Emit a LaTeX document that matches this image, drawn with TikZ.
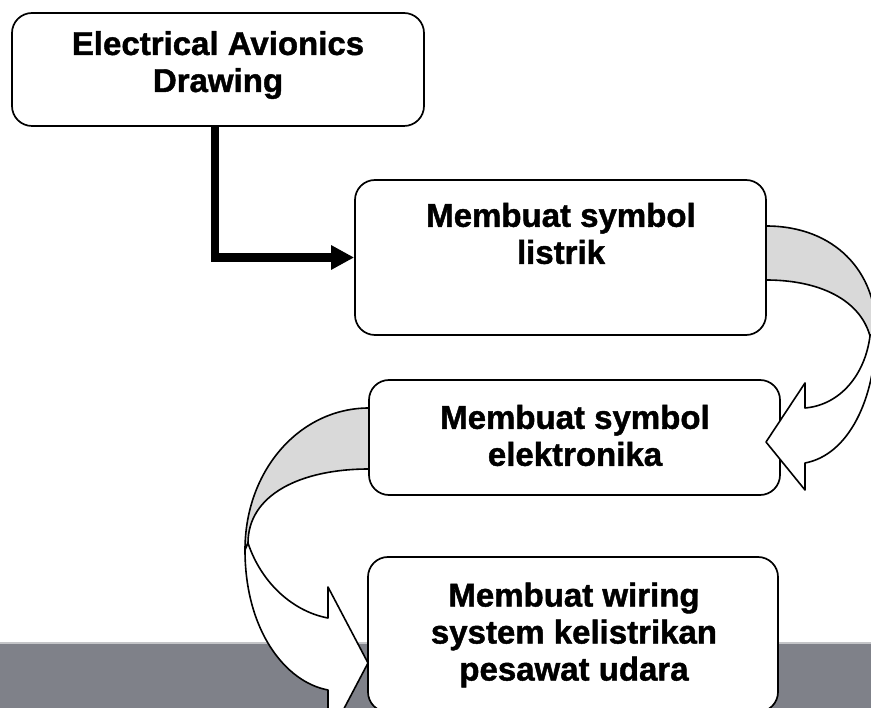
\documentclass[tikz,border=0pt]{standalone}
\usepackage{fontspec}
\setmainfont{Liberation Sans}[BoldFeatures={FakeBold=1.3}]
\usetikzlibrary{arrows.meta}
\definecolor{band}{HTML}{7F8189}
\definecolor{bandedge}{HTML}{C4C5C8}
\definecolor{back}{HTML}{D9D9D9}
\tikzset{
  box/.style={draw=black, line width=1.7pt, rounded corners=20pt, fill=white, inner sep=0pt},
  lbl/.style={align=center, font=\bfseries\fontsize{33}{37}\selectfont, inner sep=0pt},
  ribbon/.style={draw=black, line width=1.6pt, line join=round},
  elbow/.style={line width=8.5pt, -{Triangle[length=23pt,width=23pt]}},
}
\begin{document}
\begin{tikzpicture}[x=1pt,y=-1pt]
\useasboundingbox (0,0) rectangle (871,708);
% bottom band
\fill[band] (0,643) rectangle (871,708);
\draw[bandedge, line width=1.5pt] (0,643) -- (871,643);
% boxes
\node[box, minimum width=412pt, minimum height=113pt] (b1) at (218,69.5) {};
\node[box, minimum width=411pt, minimum height=155pt] (b2) at (560.5,257.5) {};
\node[box, minimum width=411pt, minimum height=115pt] (b3) at (574.5,437.5) {};
\node[box, minimum width=410pt, minimum height=155pt] (b4) at (573,634.5) {};
% elbow connector
\draw[elbow] ([xshift=-3pt]b1.south) |- (b2.west);
% curved arrow b2 -> b3
\filldraw[ribbon, fill=back] (766,226) .. controls (835,226) and (876,272) .. (876,330)
  -- (870,336) .. controls (860,300) and (820,280) .. (766,280) -- cycle;
\filldraw[ribbon, fill=white] (870,336) .. controls (865,375) and (840,405) .. (805,408)
  -- (805,383) -- (766,442) -- (805,490) -- (805,463)
  .. controls (848,455) and (876,400) .. (876,330) -- cycle;
% curved arrow b3 -> b4
\filldraw[ribbon, fill=back] (369,408) .. controls (300,408) and (245,470) .. (245,550)
  -- (248,543) .. controls (248,495) and (300,469) .. (369,469) -- cycle;
\filldraw[ribbon, fill=white] (248,543) .. controls (262,585) and (295,612) .. (328,618)
  -- (328,587) -- (368,663) -- (328,739) -- (328,690)
  .. controls (285,682) and (245,630) .. (245,550) -- cycle;
% labels
\node[lbl] (t1) at (218,65) {Electrical Avionics\\Drawing};
\node[lbl] (t2) at (561,233.5) {Membuat symbol\\listrik};
\node[lbl] (t3) at (575,435.5) {Membuat symbol\\elektronika};
\node[lbl] (t4) at (574,635) {Membuat wiring\\system kelistrikan\\pesawat udara};
\end{tikzpicture}
\end{document}
